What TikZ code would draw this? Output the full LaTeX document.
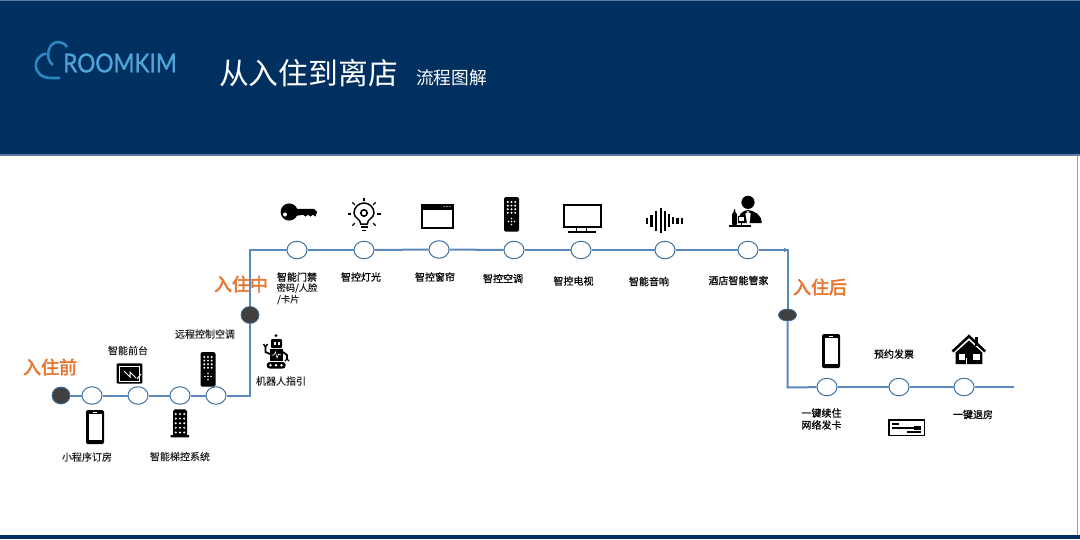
\documentclass[tikz,border=0pt]{standalone}
\usepackage{fontspec}
\usepackage{xcolor}
\usetikzlibrary{arrows.meta,positioning,shapes.geometric}
\setmainfont{Noto Sans CJK SC}
\newfontfamily\logofont[FakeStretch=0.87,FakeBold=1.2]{Lato}
\newfontfamily\stagefont[FakeBold=2.5]{Noto Sans CJK SC}
\newfontfamily\itemfont[FakeBold=0.2]{Noto Sans CJK SC}
\newfontfamily\topfont[FakeBold=0.5]{Noto Sans CJK SC}
\definecolor{headernavy}{HTML}{003060}
\definecolor{headeredge}{HTML}{5B7CA3}
\definecolor{trackblue}{HTML}{5B88BD}
\definecolor{ringblue}{HTML}{41719C}
\definecolor{stopgray}{HTML}{404040}
\definecolor{stageorange}{HTML}{E8752F}
\definecolor{logoblue}{HTML}{4FA3D6}
\definecolor{cloudblue}{HTML}{2E86C1}
\definecolor{labelgray}{HTML}{222222}
\tikzset{
  ringnode/.style={
    ellipse,
    draw=ringblue,
    fill=white,
    line width=1pt,
    inner sep=0pt,
    minimum width=20pt,
    minimum height=17.5pt
  },
  stopnode/.style={
    ellipse,
    draw=ringblue,
    fill=stopgray,
    line width=0.8pt,
    inner sep=0pt,
    minimum width=18pt,
    minimum height=17pt
  },
  stagelabel/.style={font=\stagefont\fontsize{18}{20}\selectfont, text=stageorange, inner sep=0pt},
  itemlabel/.style={font=\itemfont\fontsize{10}{12}\selectfont, text=labelgray, inner sep=0pt, align=center},
  toplabel/.style={itemlabel, font=\topfont\fontsize{10}{12}\selectfont, text=black},
  trackline/.style={draw=trackblue, line width=2pt},
  trackarrow/.style={-{Latex[length=5pt,width=5pt]}, draw=trackblue, line width=2pt},
  phoneicon/.pic={
    \fill[black, rounded corners=1.5pt] (0,0) rectangle (18,34);
    \fill[white] (2.5,4) rectangle (15.5,30);
    \fill[white] (7,1.6) rectangle (11,2.6);
  },
  remoteicon/.pic={
    \fill[black, rounded corners=1.5pt] (0,0) rectangle (15,34.5);
    \foreach \u in {3.8,7.5,11.2}
      \foreach \v in {5,8.6,12.2,15.8}
        \fill[white] (\u,\v) circle[radius=1.1];
    \foreach \u/\v in {7.5/24.5, 7.5/21.5, 7.5/27.5, 4.5/24.5, 10.5/24.5}
      \fill[white] (\u,\v) circle[radius=0.8];
  },
  bulbicon/.pic={
    \draw[black, line width=1.5pt] (-3.2,10) .. controls (-3.2,5) and (-10,4) .. (-10,-1) arc[start angle=180, end angle=360, radius=10] .. controls (10,4) and (3.2,5) .. (3.2,10) -- cycle;
    \draw[black, line width=1.6pt] (0,-1) circle[radius=3.2];
    \draw[black, line width=1.6pt] (-3.5,13.2) -- (3.5,13.2);
    \draw[black, line width=1.6pt] (-2,16.4) -- (2,16.4);
    \foreach \a in {-45,0,45,135,180,225,270}
      \draw[black, line width=1.4pt] (\a:13) -- (\a:16.5);
  }
}
\begin{document}
\begin{tikzpicture}[x=1pt,y=-1pt]
\useasboundingbox (0,0) rectangle (1080,539);
\fill[white] (0,0) rectangle (1080,539);
\fill[headernavy] (0,0) rectangle (1080,155);
\draw[headeredge, line width=1pt] (0,0.5) -- (1080,0.5);
\draw[headeredge, line width=1.2pt] (0,155) -- (1080,155);
\draw[headeredge!70, line width=0.8pt] (1077,155) -- (1077,535);
\fill[headernavy] (0,535) rectangle (1080,539);

\draw[cloudblue, line width=2.6pt] (60,78) -- (51,78) .. controls (32,78) and (31,56) .. (46.5,53.5);
\draw[cloudblue, line width=2.6pt] (53,65) .. controls (45,60) and (47,42) .. (58.5,42) .. controls (62,42) and (65,44) .. (67,47);
\node[font=\logofont\fontsize{26}{28}\selectfont, text=logoblue, inner sep=0pt] (logo) at (120,63) {ROOMKIM};
\node[font=\fontsize{29.8}{32}\selectfont, text=white, inner sep=0pt] (title) at (308.5,73) {从入住到离店};
\node[font=\fontsize{17.7}{20}\selectfont, text=white, inner sep=0pt] (subtitle) at (451.5,78) {流程图解};

\node[stopnode] (before) at (61,395.5) {};
\node[ringnode] (order) at (92,395.5) {};
\node[ringnode] (desk) at (138,395.5) {};
\node[ringnode] (lift) at (180,395.5) {};
\node[ringnode] (remote) at (216,395.5) {};
\coordinate (cornerA) at (250,395.5);
\node[stopnode] (during) at (250,315) {};
\coordinate (cornerB) at (250,250);
\node[ringnode] (door) at (297,250) {};
\node[ringnode] (light) at (364,250) {};
\node[ringnode] (curtain) at (439,249.5) {};
\node[ringnode] (aircon) at (514,250) {};
\node[ringnode] (tv) at (581,250) {};
\node[ringnode] (audio) at (665,250) {};
\node[ringnode] (butler) at (748,250) {};
\coordinate (cornerC) at (789,250);
\coordinate (cornerD) at (787.5,249);
\node[stopnode, minimum height=12pt] (after) at (787.5,315) {};
\coordinate (cornerE) at (787.5,387.5);
\node[ringnode] (renew) at (827,387) {};
\node[ringnode] (invoice) at (899,387) {};
\node[ringnode] (checkout) at (964,387) {};
\coordinate (trackend) at (1014,387);

\foreach \a/\b in {before/order,order/desk,desk/lift,lift/remote,door/light,light/curtain,curtain/aircon,aircon/tv,tv/audio,audio/butler,cornerD/after,renew/invoice,invoice/checkout,checkout/trackend}
  \draw[trackline] (\a) -- (\b);
\draw[trackline] (remote) -- (cornerA) -- (during);
\draw[trackline] (during) -- (cornerB) -- (door);
\draw[trackline] (after) -- (cornerE) -- (renew);
\draw[trackarrow] (butler) -- (cornerC);

\node[stagelabel] (stage1) at (50,367) {入住前};
\node[stagelabel] (stage2) at (241,284) {入住中};
\node[stagelabel] (stage3) at (820,287) {入住后};

\node[itemlabel] (lorder) at (87,457) {小程序订房};
\node[itemlabel] (ldesk) at (128,350.5) {智能前台};
\node[itemlabel] (lremote) at (205,334) {远程控制空调};
\node[itemlabel] (lrobot) at (281,381) {机器人指引};
\node[itemlabel] (llift) at (180,456.5) {智能梯控系统};
\node[toplabel] (ldoor) at (297,277) {智能门禁};
\node[itemlabel, font=\itemfont\fontsize{9.3}{11}\selectfont] (ldoorsub) at (297,288) {密码/人脸};
\node[itemlabel, anchor=west, font=\itemfont\fontsize{9.3}{11}\selectfont] (ldoorsubb) at (277,299.5) {/卡片};
\node[toplabel] (llight) at (361,277) {智控灯光};
\node[toplabel] (lcurtain) at (435,277) {智控窗帘};
\node[toplabel] (laircon) at (503,278.5) {智控空调};
\node[toplabel] (ltv) at (573.5,281) {智控电视};
\node[toplabel] (laudio) at (649,281.5) {智能音响};
\node[toplabel] (lbutler) at (738.5,280.5) {酒店智能管家};
\node[toplabel] (lrenew) at (821.5,419) {一键续住\\网络发卡};
\node[toplabel] (linvoice) at (894,354) {预约发票};
\node[toplabel] (lcheckout) at (973,414.5) {一键退房};

\pic at (86,410) {phoneicon};
\pic at (822,334) {phoneicon};
\pic at (200.5,352) {remoteicon};
\pic at (504,197) {remoteicon};
\pic at (364,214) {bulbicon};

\fill[black, rounded corners=1pt] (116.7,363.3) rectangle (142.3,383.5);
\draw[white, line width=0.5pt] (119.5,366) rectangle (139,381);
\draw[white, line width=1pt] (124,371) -- (130,377) -- (130,372) -- (136,378);
\draw[white, line width=1pt] (137,379) -- (141,374);

\fill[black] (173,411) -- (175,409.3) -- (185,409.3) -- (187,411) -- (187,435) -- (189,435) -- (189,437.3) -- (170.7,437.3) -- (170.7,435) -- (173,435) -- cycle;
\foreach \u in {175.8,180,184.2}
  \foreach \v in {414,418.6,423.2,427.8,432.4}
    \fill[white] (\u,\v) circle[radius=1.1];

\fill[black] (276,335.7) circle[radius=1.5];
\fill[black, rounded corners=1pt] (271,339) rectangle (282,348);
\fill[white] (274,342) rectangle (276,344.5);
\fill[white] (278,342) rectangle (280,344.5);
\fill[black] (270,349) rectangle (283,361);
\draw[white, line width=0.6pt] (271.5,355) -- (274,355) -- (275.5,352) -- (277,358) -- (278.5,354) -- (281,355);
\draw[black, line width=1.8pt] (270,354) -- (265.5,352) -- (265.5,347);
\draw[black, line width=1.4pt] (263.5,344) -- (265.5,347) -- (267.5,344);
\draw[black, line width=1.8pt] (283,352) -- (287,355) -- (287,359);
\draw[black, line width=1.4pt] (285,361) -- (287,359) -- (289,361);
\fill[black, rounded corners=3pt] (266.7,362) rectangle (285.7,368.5);
\foreach \u in {270.5,276,281.5}
  \fill[white] (\u,365.2) circle[radius=1.4];

\fill[black] (289.2,212) circle[radius=8.6];
\fill[black] (295,208.8) -- (314,208.8) -- (317,212) -- (315.5,216.5) -- (313,214.8) -- (310.5,216.5) -- (308,214.8) -- (305.5,216.5) -- (303,214.8) -- (295,216) -- cycle;
\fill[white] (285,214.5) circle[radius=2];

\fill[black] (420.5,203.5) rectangle (454,229);
\fill[white] (422.5,210) rectangle (452,227);
\foreach \u in {444,447,450}
  \fill[white] (\u,206.5) circle[radius=0.6];

\draw[black, line width=2pt] (563.7,205.3) rectangle (600.7,226.5);
\draw[black, line width=1.5pt] (576.7,227) -- (576.7,232) (586.7,227) -- (586.7,232);
\draw[black, line width=1.6pt] (568,232) -- (596,232);

\foreach \u/\h in {647/6,651.5/12,656/20,660.7/25,665/20,669/13,673/7,677.5/6,682/6}
  \draw[black, line width=2.4pt] (\u,220.5-\h/2) -- (\u,220.5+\h/2);

\fill[black] (748,202.3) circle[radius=6.6];
\fill[black] (738,223) .. controls (738,214) and (742,211) .. (748,210) .. controls (754,211) and (761.7,214) .. (761.7,223) -- cycle;
\fill[white] (745,211) -- (751,211) -- (749.5,223) -- (747,223) -- cycle;
\fill[black] (745,210.6) -- (748,212) -- (751,210.6) -- (751,213.4) -- (748,212) -- (745,213.4) -- cycle;
\fill[black, rounded corners=0.8pt] (732,225) -- (732,214) -- (733.8,212) -- (733.8,209) -- (735.2,209) -- (735.2,212) -- (737,214) -- (737,225) -- cycle;
\fill[white] (738.5,217) rectangle (744.5,221);
\draw[black, line width=0.6pt] (738.5,216.5) rectangle (744.5,221) (741.5,221) -- (741.5,225);
\draw[black, line width=1.2pt] (729,226) -- (750.7,226);

\draw[black, line width=1.6pt] (889,420) rectangle (924.3,435.3);
\draw[black, line width=1.2pt] (892,424) -- (899,424);
\draw[black, line width=1.2pt] (892,428) -- (917,428);
\fill[black] (914,426) rectangle (921,429.5);
\draw[black, line width=1.2pt] (907,432) -- (921,432);

\fill[black] (975,337) rectangle (978,346);
\draw[black, line width=2.6pt] (952.5,351.5) -- (969,336.2) -- (985.2,351.5);
\fill[black] (955.7,364) -- (955.7,352.5) -- (969,340.5) -- (982.3,352.5) -- (982.3,364) -- cycle;
\fill[white] (958.5,354) rectangle (965,359.5);
\fill[white] (973,354) rectangle (979.5,359.5);
\fill[white] (965.8,358) rectangle (967,364);
\end{tikzpicture}
\end{document}
